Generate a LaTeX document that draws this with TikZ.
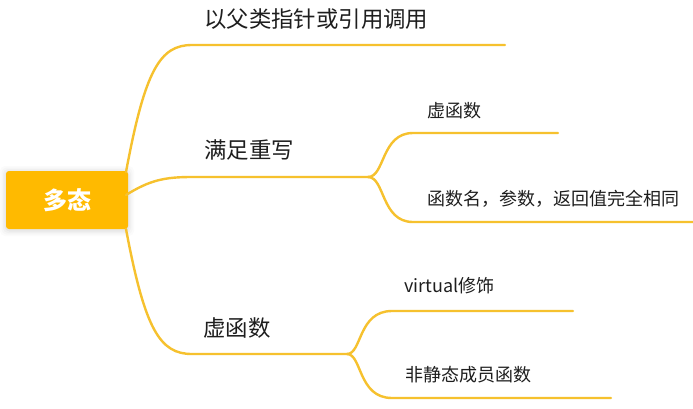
\documentclass[tikz,border=0pt]{standalone}
\usepackage{fontspec}
\setmainfont{Noto Sans CJK SC}
\definecolor{branchcol}{HTML}{F6C12E}
\definecolor{rootfill}{HTML}{FFBA00}
\definecolor{txt}{HTML}{1E1E1E}
\tikzset{
  rootbox/.style={fill=rootfill, rounded corners=3pt, minimum width=122pt, minimum height=58pt, inner sep=0pt, text=white, font=\fontsize{24}{26}\selectfont\bfseries},
  lvlone/.style={anchor=base west, inner sep=0pt, text=txt, font=\fontsize{22.4}{24}\selectfont},
  lvltwo/.style={anchor=base west, inner sep=0pt, text=txt, font=\fontsize{18}{20}\selectfont},
  link/.style={draw=branchcol, line width=2.4pt, line cap=round}
}
\begin{document}
\begin{tikzpicture}[x=1pt,y=-1pt]
\useasboundingbox (0,0) rectangle (693,408);
\fill[white] (0,0) rectangle (693,408);

% soft glow behind the root
\foreach \g/\o in {6/0.015,4.5/0.02,3/0.025,1.5/0.03}{
  \fill[black, opacity=\o, rounded corners=5pt] (6-\g,171-\g+1) rectangle (128+\g,229+\g+1);
}

% root
\node[rootbox] (root) at (67,200) {多态};

% junction / end coordinates
\coordinate (r1) at (126,172);
\coordinate (r2) at (126,195);
\coordinate (r3) at (126,229);
\coordinate (a1) at (192,45);
\coordinate (a1e) at (505,45);
\coordinate (a2) at (192,177);
\coordinate (j2) at (368,177);
\coordinate (a3) at (192,354);
\coordinate (j3) at (347,354);
\coordinate (b1) at (413,133);
\coordinate (b1e) at (558,133);
\coordinate (b2) at (413,222);
\coordinate (b2e) at (693,222);
\coordinate (c1) at (392,311);
\coordinate (c1e) at (573,311);
\coordinate (c2) at (392,398);
\coordinate (c2e) at (611,398);

% texts
\node[lvlone] (t1) at (204,27) {以父类指针或引用调用};
\node[lvlone] (t2) at (204,158) {满足重写};
\node[lvlone] (t3) at (203,336) {虚函数};
\node[lvltwo] (t21) at (427,117) {虚函数};
\node[lvltwo] (t22) at (427,205) {函数名，参数，返回值完全相同};
\node[lvltwo] (t31) at (404,292) {virtual修饰};
\node[lvltwo] (t32) at (405,381) {非静态成员函数};

% connectors
\path[link] (r1) .. controls (145,70) and (160,45) .. (a1) -- (a1e);
\path[link] (r2) .. controls (150,180) and (165,177) .. (a2) -- (j2);
\path[link] (r3) .. controls (145,330) and (160,354) .. (a3) -- (j3);
\path[link] (j2) .. controls (385,177) and (381,133) .. (b1) -- (b1e);
\path[link] (j2) .. controls (385,177) and (381,222) .. (b2) -- (b2e);
\path[link] (j3) .. controls (362,354) and (358,311) .. (c1) -- (c1e);
\path[link] (j3) .. controls (362,354) and (358,398) .. (c2) -- (c2e);
\end{tikzpicture}
\end{document}
